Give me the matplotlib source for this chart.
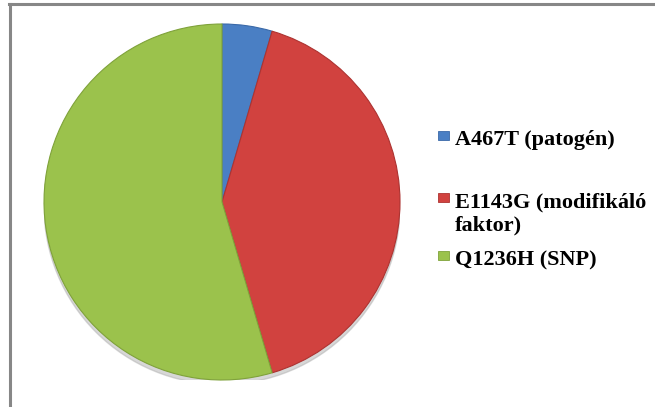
import matplotlib.pyplot as plt
from matplotlib.patches import Rectangle, Circle
from matplotlib.lines import Line2D

# slice values (share of cases)
labels = ['A467T (patogén)', 'E1143G (modifikáló\nfaktor)', 'Q1236H (SNP)']
values = [1, 9, 12]
colors = ['#4a7fc4', '#d1423f', '#9bc24c']
edge_colors = ['#3a69a8', '#ad3331', '#7fa23a']

W, H = 655, 407
fig = plt.figure(figsize=(W / 100, H / 100), dpi=100)

# pie axes: center (222, 202) px, radius 178 px
cx, cy, r = 222, 202, 178
ax = fig.add_axes([(cx - r) / W, (H - cy - r) / H, 2 * r / W, 2 * r / H])

# soft shadow under the pie
ax.add_patch(Circle((0.0, -0.025), 1.0, color='#b0b0b0', alpha=0.5, zorder=0))

wedges, _ = ax.pie(values, colors=colors, startangle=90, counterclock=False,
                   radius=1.0, wedgeprops=dict(linewidth=0.8))
for w, ec in zip(wedges, edge_colors):
    w.set_edgecolor(ec)
    w.set_zorder(2)
ax.set_xlim(-1.0, 1.0)
ax.set_ylim(-1.0, 1.0)
ax.set_aspect('equal')
ax.axis('off')

# chart area frame (only top and left edges visible in the crop)
fig.add_artist(Line2D([9 / W, 1.0], [1 - 4 / H, 1 - 4 / H], color='#878787', lw=2.2))
fig.add_artist(Line2D([10 / W, 10 / W], [0.0, 1 - 4 / H], color='#878787', lw=2.2))

# legend entries placed by hand (baseline of first line, px from top)
baselines = [145, 207, 265]
line_step = 23
for lab, col, ec, yb in zip(labels, colors, edge_colors, baselines):
    fig.add_artist(Rectangle((438 / W, 1 - (yb - 5) / H), 11 / W, 9 / H,
                             facecolor=col, edgecolor=ec, lw=0.6))
    for i, part in enumerate(lab.split('\n')):
        fig.text(455 / W, 1 - (yb + i * line_step) / H, part, ha='left',
                 va='baseline', fontsize=16, fontweight='bold',
                 family='Liberation Serif')

fig.savefig('out.png', dpi=100)
